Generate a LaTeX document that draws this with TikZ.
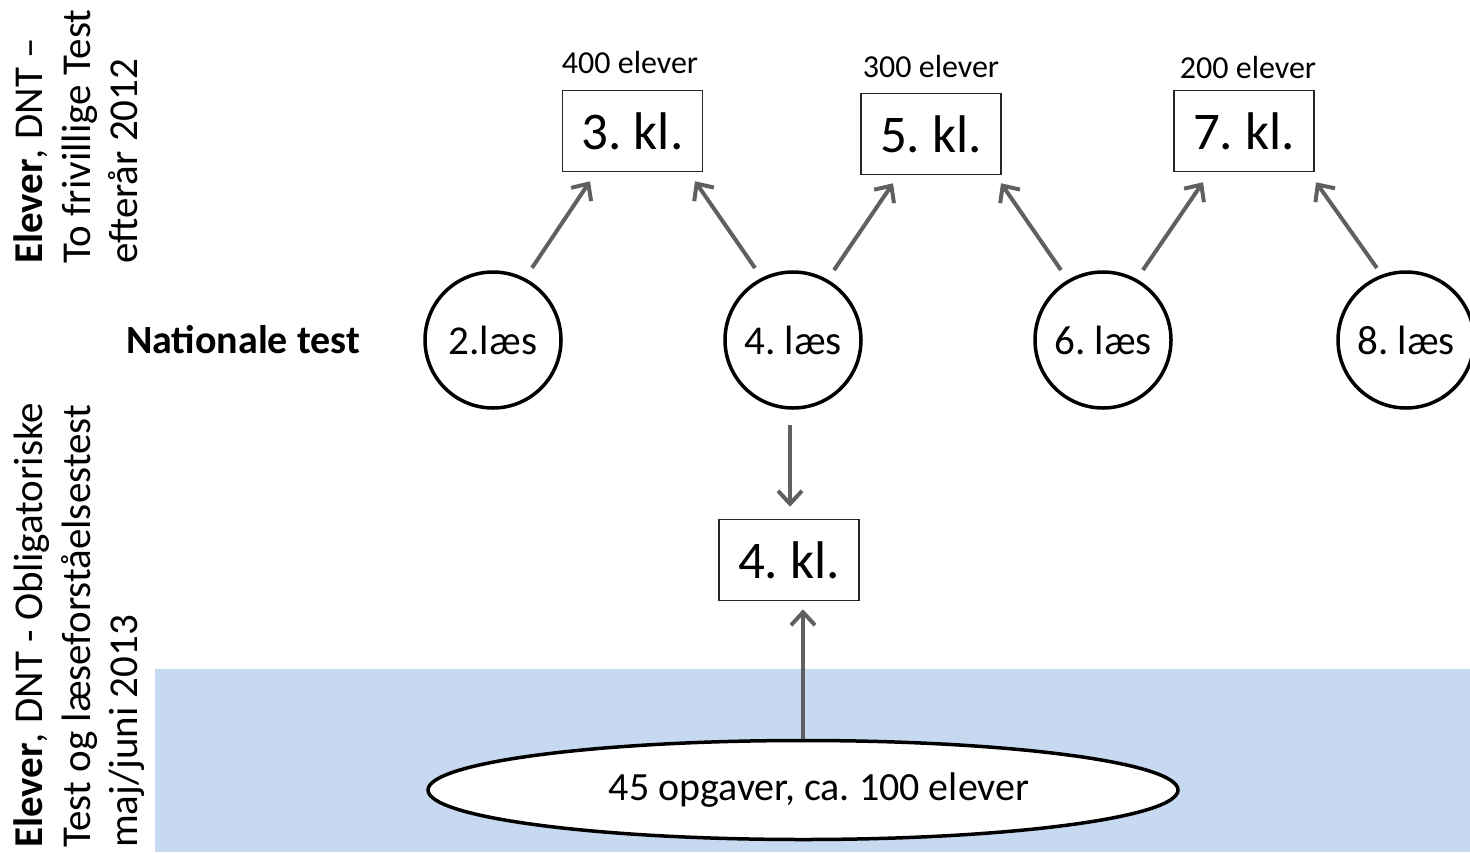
\documentclass[tikz,border=0pt]{standalone}
\usepackage{fontspec}
\setmainfont{Carlito}
\usetikzlibrary{arrows.meta,shapes.geometric,calc}
\definecolor{bgblue}{RGB}{198,217,241}
\definecolor{arrgray}{RGB}{96,96,96}
\frenchspacing
\begin{document}
\begin{tikzpicture}[x=1pt,y=-1pt,
  circ/.style={circle,draw=black,line width=3.5pt,minimum size=136pt,inner sep=0pt,font=\fontsize{41}{48}\selectfont},
  klbox/.style={rectangle,draw=black!85,line width=1.5pt,minimum width=140pt,minimum height=81pt,inner sep=0pt,font=\fontsize{53}{60}\selectfont},
  cnt/.style={font=\fontsize{32}{38}\selectfont,inner sep=0pt},
  arr/.style={draw=arrgray,line width=4pt,-{Straight Barb[length=13pt,width=24pt,line width=4pt]}},
  sidetxt/.style={rotate=90,align=left,anchor=north west,inner sep=0pt,font=\fontsize{41}{47.5}\selectfont}
]
\useasboundingbox (0,0) rectangle (1470,852);
\node[fill=bgblue,draw=none,anchor=north west,inner sep=0pt,minimum width=1315pt,minimum height=183pt] (band) at (155,669) {};

\node[sidetxt] (topside) at (14,264) {\textbf{Elever}, DNT –\\To frivillige Test\\efterår 2012};
\node[sidetxt] (botside) at (14,848) {\textbf{Elever}, DNT - Obligatoriske\\Test og læseforståelsestest\\maj/juni 2013};

\node[anchor=base west,inner sep=0pt,font=\fontsize{40}{44}\selectfont\bfseries] (nt) at (126,353) {Nationale test};

\node[circ] (c2) at (493,340) {2.læs};
\node[circ] (c4) at (793,340) {4. læs};
\node[circ] (c6) at (1103,340) {6. læs};
\node[circ] (c8) at (1406,340) {8. læs};

\node[klbox] (k3) at (632.5,131) {3. kl.};
\node[klbox] (k5) at (931,134) {5. kl.};
\node[klbox] (k7) at (1244,131) {7. kl.};
\node[klbox] (k4) at (789,560) {4. kl.};

\node[cnt] (l400) at (630,62) {400 elever};
\node[cnt] (l300) at (931,66) {300 elever};
\node[cnt] (l200) at (1248,67) {200 elever};

\node[ellipse,draw=black,line width=3.5pt,fill=white,minimum width=750pt,minimum height=99pt,inner sep=0pt,font=\fontsize{40}{46}\selectfont] (ell) at (803,790) {\hspace*{32pt}45 opgaver, ca. 100 elever};

\draw[arr] ($(c2)+(-61.6:82)$) -- ($(k3.south)+(-42.5,9)$);
\draw[arr] ($(c4)+(-117.8:81.4)$) -- ($(k3.south)+(62.5,9)$);
\draw[arr] ($(c4)+(-59.6:81)$) -- ($(k5.south)+(-38,8)$);
\draw[arr] ($(c6)+(-121:81.6)$) -- ($(k5.south)+(70,8)$);
\draw[arr] ($(c6)+(-60.3:80.6)$) -- ($(k7.south)+(-41,10)$);
\draw[arr] ($(c8)+(-112:77.6)$) -- ($(k7.south)+(72,10)$);
\draw[arr,line width=3.2pt] ($(c4.south)+(-3,15)$) -- ($(k4.north)+(1,-12)$);
\draw[arr] (ell.north) -- ($(k4.south)+(14,8)$);
\end{tikzpicture}
\end{document}
